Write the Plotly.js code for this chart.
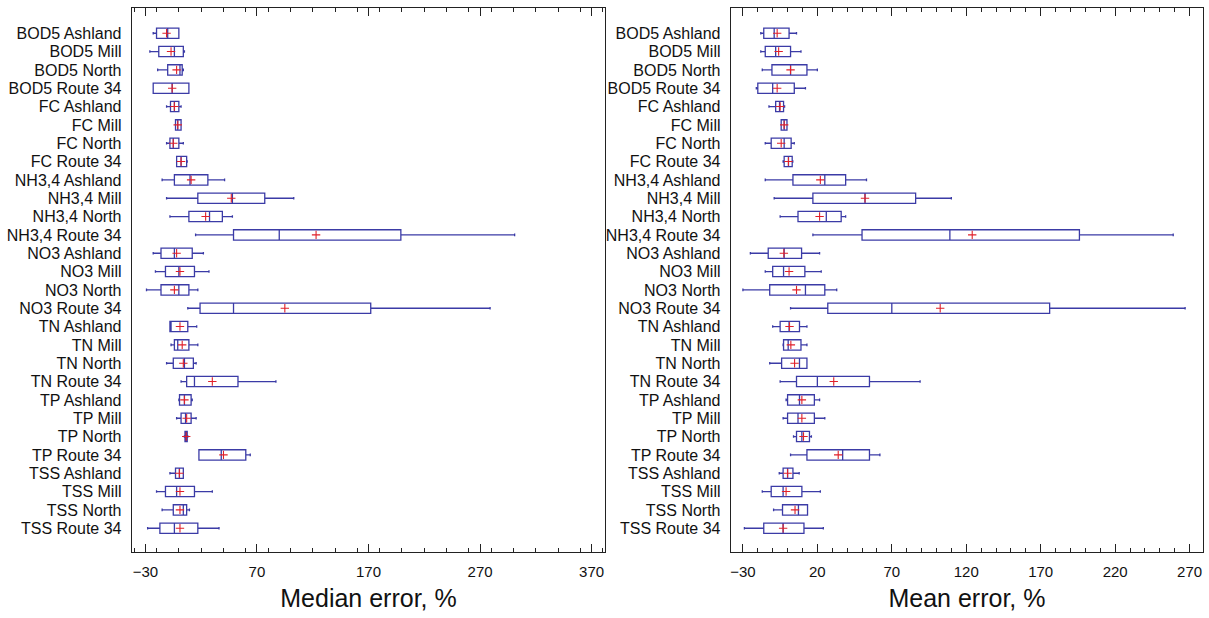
<!DOCTYPE html>
<html><head><meta charset="utf-8">
<script src="https://cdn.plot.ly/plotly-3.0.1.min.js"></script>
<style>html,body{margin:0;padding:0;background:#fff;}#chart{width:1209px;height:618px;}</style>
</head><body><div id="chart"></div>
<script>
const categories = ["BOD5 Ashland","BOD5 Mill","BOD5 North","BOD5 Route 34","FC Ashland","FC Mill","FC North","FC Route 34","NH3,4 Ashland","NH3,4 Mill","NH3,4 North","NH3,4 Route 34","NO3 Ashland","NO3 Mill","NO3 North","NO3 Route 34","TN Ashland","TN Mill","TN North","TN Route 34","TP Ashland","TP Mill","TP North","TP Route 34","TSS Ashland","TSS Mill","TSS North","TSS Route 34"];

// Median error, %
const medLow  = [-23,-26,-19,-23,-11,-3,-11,-2,-15,-11,-8,15,-23,-21,-29,8,-8,-7,-11,2,0,-2,5,18,-8,-20,-15,-28];
const medQ1   = [-20,-18,-10,-23,-7.5,-3,-8,-2,-4,17,9,49,-16,-12,-16,19,-8,-4,-5,7,0.6,2,5.5,18,-3,-12,-5,-17];
const medMed  = [-10,-4,1,-6,-4,-1,-5,2,10,48,27.5,90,-4,0,0,49,-7,-1,5,14,5,6,6.6,38,0.5,-2,4,-4];
const medQ3   = [0,4,3,9,0,2,0,7,26,77,39,199,12,14,9,172,8,9,13,53,11,11,7.5,60,4,14,7,17];
const medHigh = [0,5,4,9,2,2,4,7.5,41,103,48,301,22,27,17,279,16,17,15.5,87,12,15.5,8,64,4,30,9.5,36];
const medMean = [-11,-7,-2,-6,-4,-1,-5,2,11,47,24,123,-2,1,-4,95,1,3,4,30,5,7,6.6,40,0.5,1,1,1];

// Mean error, %
const mnLow  = [-18,-18,-17,-21,-12.5,-4.3,-15,-3,-15,-9,-5,17,-25,-15,-30,2,-10,-3,-12,-5,-1,-3,4,2,-5.6,-17,-9.4,-29];
const mnQ1   = [-16,-15,-10.5,-20,-8,-4.3,-11,-2.3,3.6,17,7,50,-13,-10,-12,27,-5,-2.7,-4,6,0,0,6,13,-3,-11,-3.4,-16];
const mnMed  = [-9,-8,2,-10,-5.4,-2.3,-2.3,0.6,25,52,26,109,-2.3,-2.7,12,70,1,0.4,8,20,8,7,9.6,37,0,-3,7.3,-3];
const mnQ3   = [1,2,13,4.5,-2.7,-0.4,2.4,3.1,39,86,36,196,9.4,11.6,25,176,8,9,13,55,18,18,14.7,55,3.6,9.6,13.4,11];
const mnHigh = [6,9,20,12,-2,-0.4,4.5,3.5,53,110,39,259,21.5,22.6,33,267,13,13,13,89,21.5,25,16,62,7.8,22,13.4,24];
const mnMean = [-7,-6,2,-7,-5,-2.3,-4.3,0.6,22,52,21.5,124,-2.5,1,6,102.5,1.3,2.2,4.7,31,9.6,9.6,10.7,34,0,-1,5,-3];

const boxColor = '#3b3ba6';
function boxTrace(low,q1,med,q3,high,xa,ya){
  return {type:'box', orientation:'h', y:categories, lowerfence:low, q1:q1, median:med, q3:q3, upperfence:high,
    xaxis:xa, yaxis:ya, fillcolor:'rgba(255,255,255,0)', line:{color:boxColor,width:1.3},
    whiskerwidth:0.25, boxpoints:false, hoverinfo:'skip', showlegend:false};
}
function meanTrace(mean,xa,ya){
  return {type:'scatter', mode:'markers', x:mean, y:categories, xaxis:xa, yaxis:ya,
    marker:{symbol:'cross-thin-open', size:6, line:{color:'#e0202a',width:1.1}, color:'#e0202a'},
    hoverinfo:'skip', showlegend:false};
}
const data = [
  boxTrace(medLow,medQ1,medMed,medQ3,medHigh,'x','y'), meanTrace(medMean,'x','y'),
  boxTrace(mnLow,mnQ1,mnMed,mnQ3,mnHigh,'x2','y2'), meanTrace(mnMean,'x2','y2')
];
const W=1209,H=618;
const fontFam = 'Liberation Sans, Arial, sans-serif';
function xax(dom,range,dtick,minor,title,anchor){
  return {domain:dom, range:range, tick0:-30, dtick:dtick, ticks:'inside', ticklen:8, tickwidth:1, tickcolor:'#222',
    minor:{dtick:minor, ticks:'inside', ticklen:4, tickwidth:1, tickcolor:'#222'},
    showline:true, linecolor:'#222', linewidth:1.3, mirror:'allticks', showgrid:false, zeroline:false,
    tickfont:{family:fontFam,size:15,color:'#111'}, ticklabelstandoff:6,
    title:{text:title, font:{family:fontFam,size:25,color:'#111'}, standoff:10}, anchor:anchor, automargin:false};
}
function yax(dom,anchor){
  return {domain:dom, type:'category', categoryarray:categories, categoryorder:'array', range:[28.28,-1.36],
    tickmode:'linear', tick0:0, dtick:1,
    ticks:'', showline:true, linecolor:'#222', linewidth:1.3, mirror:true, showgrid:false, zeroline:false,
    tickfont:{family:fontFam,size:16,color:'#111'}, ticklabelstandoff:6, anchor:anchor, automargin:false};
}
const yd=[1-551.7/H, 1-8.3/H];
const layout = {
  width:W, height:H, margin:{l:0,r:0,t:0,b:0}, paper_bgcolor:'#fff', plot_bgcolor:'#fff',
  boxgap:0.2, showlegend:false,
  xaxis: xax([132/W,605/W],[-42,382],100,20,'Median error, %','y'),
  yaxis: yax(yd,'x'),
  xaxis2: xax([731/W,1203/W],[-38,279],50,10,'Mean error, %','y2'),
  yaxis2: yax(yd,'x2')
};
Plotly.newPlot('chart', data, layout, {staticPlot:true});
</script></body></html>
